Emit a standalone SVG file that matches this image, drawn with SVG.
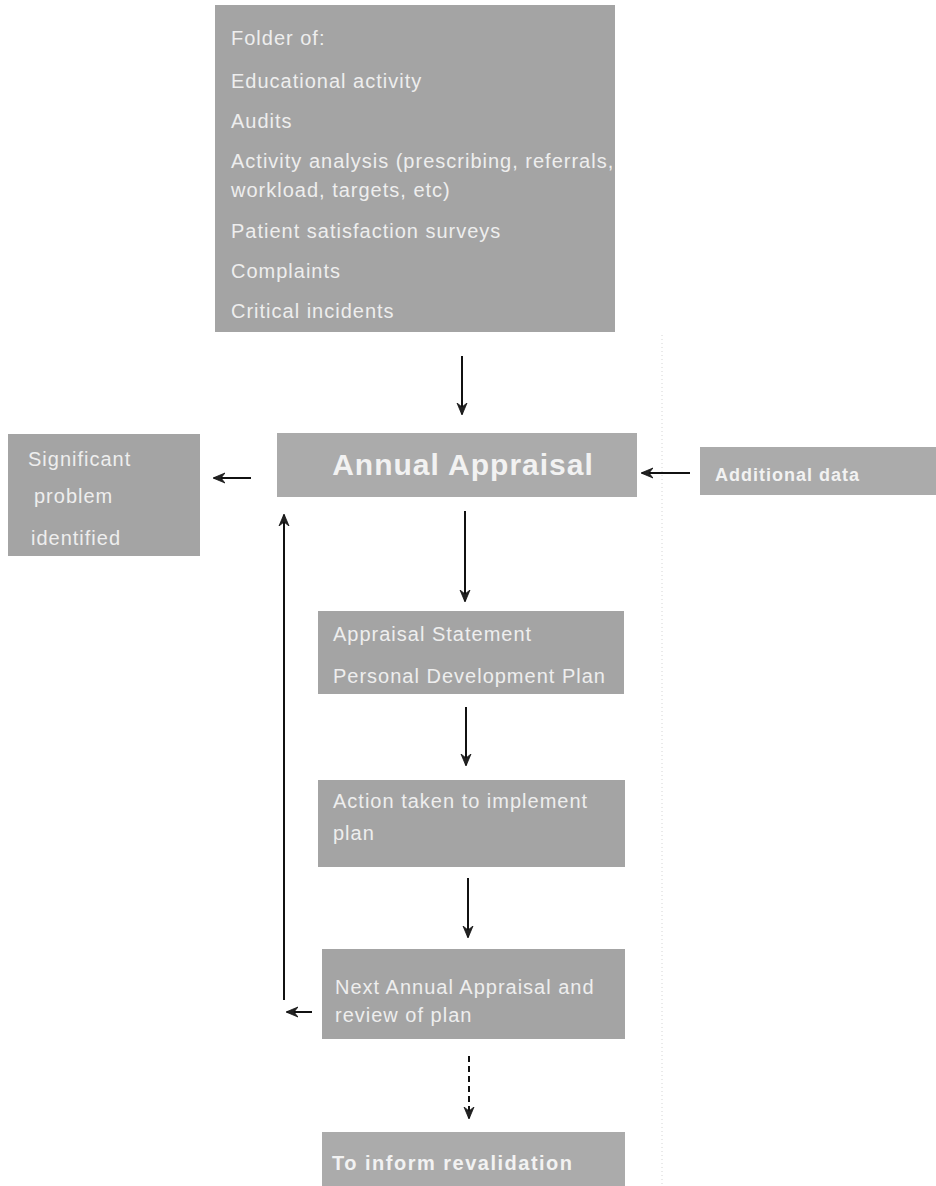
<svg xmlns="http://www.w3.org/2000/svg" width="936" height="1186" viewBox="0 0 936 1186">
<defs>
<style>
.box{fill:#a4a4a4;}
.box2{fill:#ababab;}
.t{font-family:"Liberation Sans",Arial,sans-serif;font-size:20px;fill:#eeeeee;letter-spacing:1px;}
.tb{font-family:"Liberation Sans",Arial,sans-serif;font-weight:bold;fill:#f2f2f2;}
.c{stroke:#111;stroke-width:2;fill:none;}
.d{stroke-dasharray:6 4;}
</style>
<marker id="ah" viewBox="0 0 12 12" refX="11" refY="6" markerWidth="12" markerHeight="12" markerUnits="userSpaceOnUse" orient="auto">
<path d="M0,1 L12,6 L0,11 L4,6 Z" fill="#222" stroke="#111" stroke-width="0.8"/>
</marker>
</defs>
<rect width="936" height="1186" fill="#ffffff"/>
<line x1="662" y1="335" x2="662" y2="1186" stroke="#d4d4d4" stroke-width="1" stroke-dasharray="1 3"/>

<g id="folder">
<rect class="box" x="215" y="5" width="400" height="327"/>
<text class="t" x="231" y="45">Folder of:</text>
<text class="t" x="231" y="88">Educational activity</text>
<text class="t" x="231" y="128">Audits</text>
<text class="t" x="231" y="168">Activity analysis (prescribing, referrals,</text>
<text class="t" x="231" y="197">workload, targets, etc)</text>
<text class="t" x="231" y="238">Patient satisfaction surveys</text>
<text class="t" x="231" y="278">Complaints</text>
<text class="t" x="231" y="318">Critical incidents</text>
</g>

<g id="annual">
<rect class="box2" x="277" y="433" width="360" height="64"/>
<text class="tb" x="463" y="475" font-size="30" text-anchor="middle" letter-spacing="1">Annual Appraisal</text>
</g>

<g id="additional">
<rect class="box2" x="700" y="447" width="236" height="48"/>
<text class="tb" x="715" y="481" font-size="18" letter-spacing="1">Additional data</text>
</g>

<g id="significant">
<rect class="box" x="8" y="434" width="192" height="122"/>
<text class="t" x="28" y="466">Significant</text>
<text class="t" x="34" y="503">problem</text>
<text class="t" x="31" y="545">identified</text>
</g>

<g id="statement">
<rect class="box" x="318" y="611" width="306" height="83"/>
<text class="t" x="333" y="641">Appraisal Statement</text>
<text class="t" x="333" y="683">Personal Development Plan</text>
</g>

<g id="action">
<rect class="box" x="318" y="780" width="307" height="87"/>
<text class="t" x="333" y="808">Action taken to implement</text>
<text class="t" x="333" y="840">plan</text>
</g>

<g id="next">
<rect class="box" x="322" y="949" width="303" height="90"/>
<text class="t" x="335" y="994">Next Annual Appraisal and</text>
<text class="t" x="335" y="1022">review of plan</text>
</g>

<g id="revalidation">
<rect class="box2" x="322" y="1132" width="303" height="54"/>
<text class="tb" x="332" y="1170" font-size="20" letter-spacing="1.5">To inform revalidation</text>
</g>

<g id="connectors">
<line class="c" x1="462" y1="356" x2="462" y2="414" marker-end="url(#ah)"/>
<line class="c" x1="690" y1="473" x2="642" y2="473" marker-end="url(#ah)"/>
<line class="c" x1="251" y1="478" x2="214" y2="478" marker-end="url(#ah)"/>
<line class="c" x1="465" y1="511" x2="465" y2="601" marker-end="url(#ah)"/>
<line class="c" x1="466" y1="707" x2="466" y2="765" marker-end="url(#ah)"/>
<line class="c" x1="468" y1="878" x2="468" y2="937" marker-end="url(#ah)"/>
<line class="c" x1="312" y1="1012" x2="287" y2="1012" marker-end="url(#ah)"/>
<line class="c" x1="284" y1="1000" x2="284" y2="515" marker-end="url(#ah)"/>
<line class="c d" x1="469" y1="1056" x2="469" y2="1118" marker-end="url(#ah)"/>
</g>
</svg>
